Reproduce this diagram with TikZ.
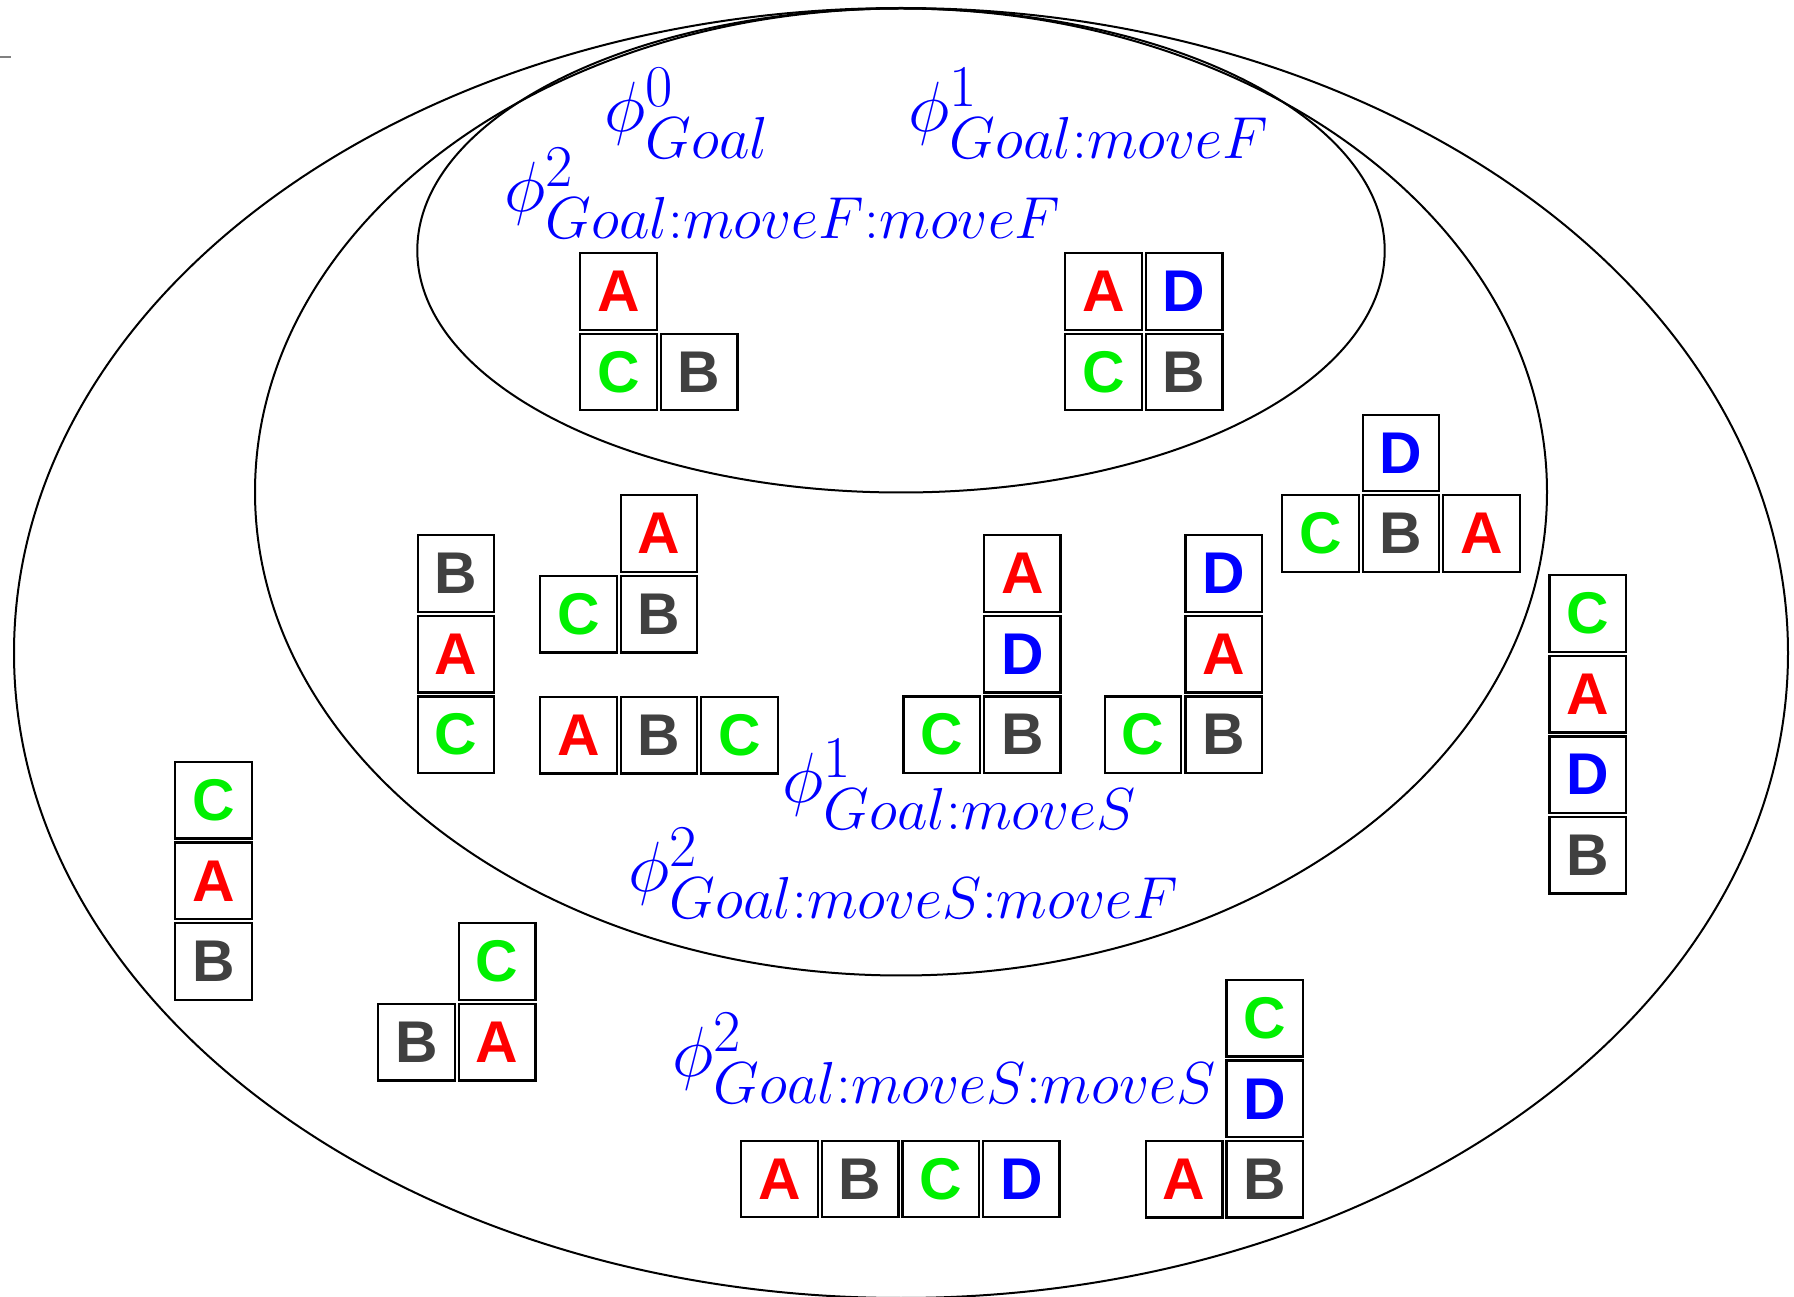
\documentclass[tikz,border=0pt]{standalone}
\usepackage{amsmath}
\usepackage{fontspec}
\newfontfamily\blkfont{Liberation Sans}
\definecolor{blkred}{RGB}{255,0,0}
\definecolor{blkgreen}{RGB}{0,240,0}
\definecolor{blkblue}{RGB}{0,0,255}
\definecolor{blkgray}{RGB}{64,64,64}
\definecolor{lblblue}{RGB}{0,0,255}
\newcommand\blk[5]{\node[blk,text=#4] (#5) at ({#1+39.5},{#2+39.5}) {#3};}
\begin{document}
\begin{tikzpicture}[x=0.35pt,y=-0.35pt,
  blk/.style={draw=black, line width=0.84pt, minimum size=26.8pt, inner sep=0pt,
    font=\blkfont\bfseries\fontsize{20.6}{20.6}\selectfont},
  lbl/.style={text=lblblue, inner sep=0pt, anchor=base west, font=\Huge},
  ring/.style={draw=black, line width=0.7pt}]
\useasboundingbox (0,0) rectangle (1794,1297);
% ellipses
\draw[ring] (901,653) ellipse [x radius=887, y radius=645];
\draw[ring] (901,492) ellipse [x radius=646, y radius=483.5];
\draw[ring] (901,250.5) ellipse [x radius=483.7, y radius=242];
\draw[gray, line width=0.5pt] (0,57) -- (11,57);
% labels
\node[lbl] (l0) at (604,132) {$\phi^0_{Goal}$};
\node[lbl] (l1) at (908,132) {$\phi^1_{Goal:moveF}$};
\node[lbl] (l2) at (504,212) {$\phi^2_{Goal:moveF:moveF}$};
\node[lbl] (l3) at (782,803) {$\phi^1_{Goal:moveS}$};
\node[lbl] (l4) at (628,892) {$\phi^2_{Goal:moveS:moveF}$};
\node[lbl] (l5) at (672,1077) {$\phi^2_{Goal:moveS:moveS}$};
% inner ellipse
\blk{579}{252}{A}{blkred}{i1a}
\blk{579}{332.5}{C}{blkgreen}{i1c}
\blk{659.6}{332.5}{B}{blkgray}{i1b}
\blk{1064}{252}{A}{blkred}{i2a}
\blk{1144.6}{252}{D}{blkblue}{i2d}
\blk{1064}{332.5}{C}{blkgreen}{i2c}
\blk{1144.6}{332.5}{B}{blkgray}{i2b}
% middle ellipse
\blk{416.5}{534}{B}{blkgray}{m1b}
\blk{416.5}{614.6}{A}{blkred}{m1a}
\blk{416.5}{695.2}{C}{blkgreen}{m1c}
\blk{619.5}{494}{A}{blkred}{m2a}
\blk{539}{574.6}{C}{blkgreen}{m2c}
\blk{619.5}{574.6}{B}{blkgray}{m2b}
\blk{539}{695.6}{A}{blkred}{m3a}
\blk{619.5}{695.6}{B}{blkgray}{m3b}
\blk{700}{695.6}{C}{blkgreen}{m3c}
\blk{982.8}{534}{A}{blkred}{m4a}
\blk{982.8}{614.6}{D}{blkblue}{m4d}
\blk{902.2}{695.2}{C}{blkgreen}{m4c}
\blk{982.8}{695.2}{B}{blkgray}{m4b}
\blk{1184.1}{534}{D}{blkblue}{m5d}
\blk{1184.1}{614.6}{A}{blkred}{m5a}
\blk{1103.5}{695.2}{C}{blkgreen}{m5c}
\blk{1184.1}{695.2}{B}{blkgray}{m5b}
\blk{1361.5}{413.5}{D}{blkblue}{m6d}
\blk{1281}{494}{C}{blkgreen}{m6c}
\blk{1361.5}{494}{B}{blkgray}{m6b}
\blk{1442}{494}{A}{blkred}{m6a}
% outer ellipse
\blk{1548.3}{574}{C}{blkgreen}{o1c}
\blk{1548.3}{654.6}{A}{blkred}{o1a}
\blk{1548.3}{735.2}{D}{blkblue}{o1d}
\blk{1548.3}{815.8}{B}{blkgray}{o1b}
\blk{174}{760.8}{C}{blkgreen}{o2c}
\blk{174}{841.4}{A}{blkred}{o2a}
\blk{174}{922}{B}{blkgray}{o2b}
\blk{457.6}{922}{C}{blkgreen}{o3c}
\blk{377}{1002.6}{B}{blkgray}{o3b}
\blk{457.6}{1002.6}{A}{blkred}{o3a}
\blk{740}{1139.5}{A}{blkred}{o4a}
\blk{820.6}{1139.5}{B}{blkgray}{o4b}
\blk{901.2}{1139.5}{C}{blkgreen}{o4c}
\blk{981.8}{1139.5}{D}{blkblue}{o4d}
\blk{1225.3}{978.7}{C}{blkgreen}{o5c}
\blk{1225.3}{1059.3}{D}{blkblue}{o5d}
\blk{1144.7}{1139.9}{A}{blkred}{o5a}
\blk{1225.3}{1139.9}{B}{blkgray}{o5b}
\end{tikzpicture}
\end{document}
